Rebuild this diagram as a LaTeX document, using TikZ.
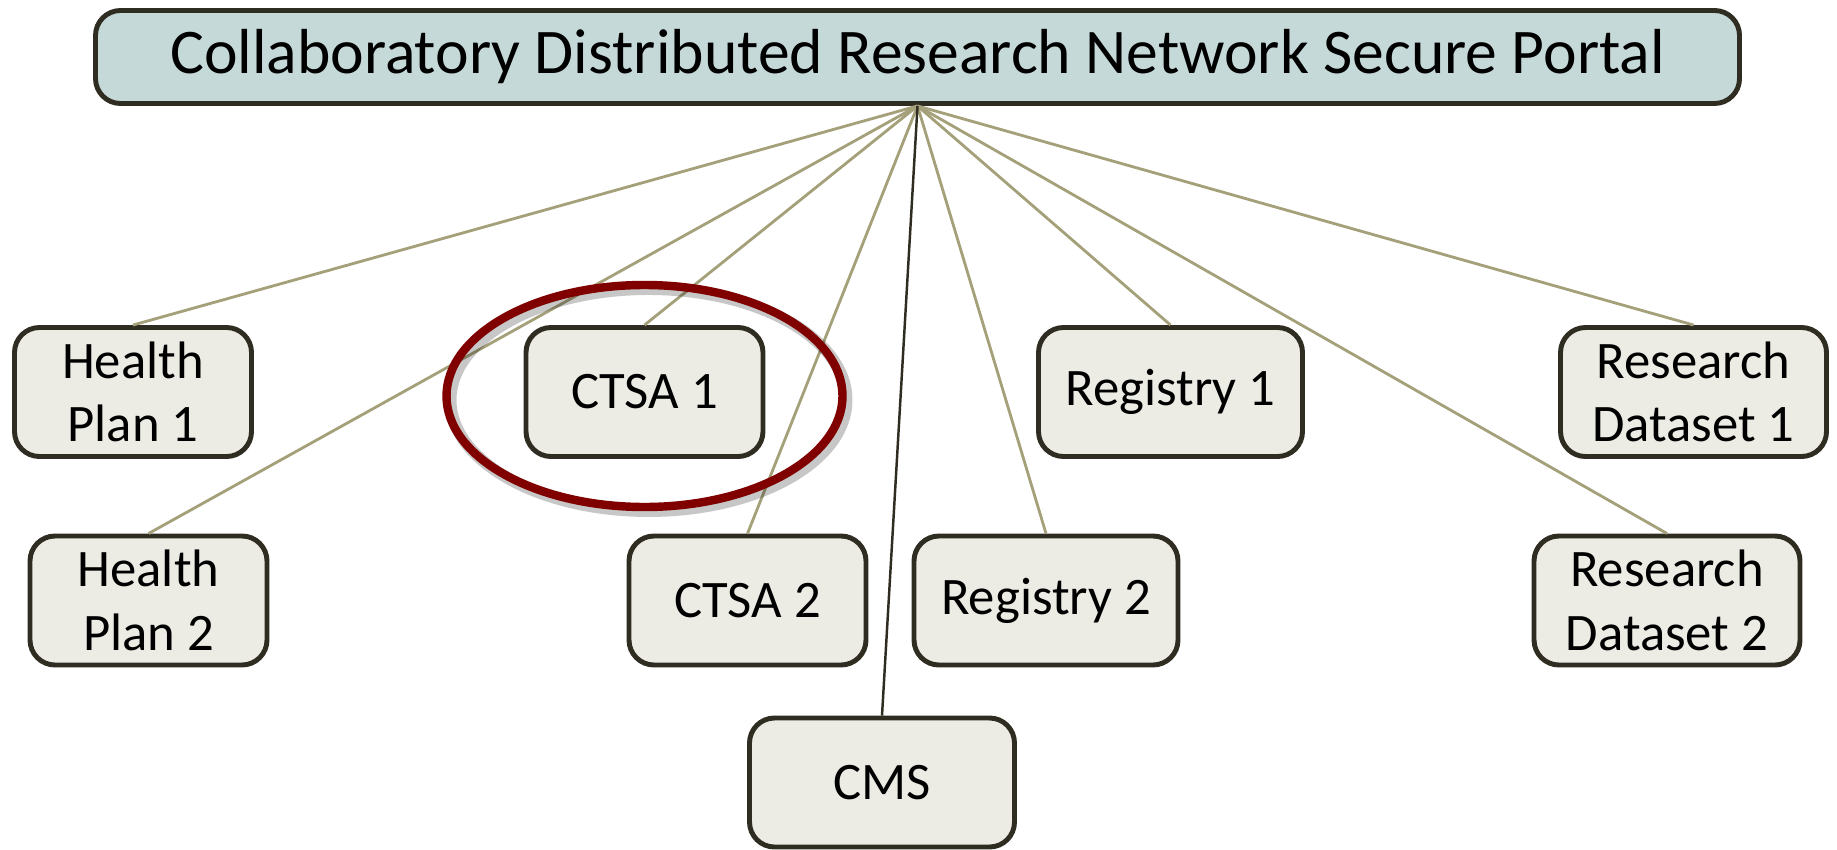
\documentclass[tikz,border=0pt]{standalone}
\usepackage{fontspec}
\setmainfont{Carlito}
\usepackage{xcolor}

\definecolor{portalfill}{RGB}{197,217,216}
\definecolor{sitefill}{RGB}{236,236,229}
\definecolor{siteline}{RGB}{47,44,34}
\definecolor{linkline}{RGB}{164,160,122}
\definecolor{ringred}{RGB}{128,0,0}

\pgfdeclareradialshading{slideshade}{\pgfpoint{0bp}{0bp}}{color(0bp)=(white); color(33bp)=(white); color(50bp)=(black!12)}

\begin{document}
\begin{tikzpicture}
    \tikzstyle{site} = [draw=siteline, fill=sitefill, line width=1.4pt, rounded corners=0.25cm, align=center, font=\fontsize{15}{18}\selectfont, minimum height=1.29cm]
    \tikzstyle{link} = [draw=linkline, line width=0.8pt]
    \useasboundingbox (0,0) rectangle (18.37,-8.49);
    \begin{scope}
        \clip (0,0) rectangle (18.37,-8.49);
        \shade[shading=slideshade] (7.5,-3.5) circle (12);
    \end{scope}
    \node [site, fill=portalfill, minimum width=16.44cm, minimum height=0.93cm, font=\fontsize{18.1}{22}\selectfont] at (9.175,-0.57) (portal) {Collaboratory Distributed Research Network Secure Portal};
    \node [site, minimum width=2.37cm] at (1.33,-3.92) (hp1) {Health\\Plan 1};
    \node [site, minimum width=2.37cm] at (1.485,-6.005) (hp2) {Health\\Plan 2};
    \node [site, minimum width=2.37cm] at (6.445,-3.92) (ctsa1) {CTSA 1};
    \node [site, minimum width=2.37cm] at (7.475,-6.005) (ctsa2) {CTSA 2};
    \node [site, minimum width=2.64cm] at (11.705,-3.92) (reg1) {Registry 1};
    \node [site, minimum width=2.64cm] at (10.46,-6.005) (reg2) {Registry 2};
    \node [site, minimum width=2.66cm] at (16.935,-3.92) (rd1) {Research\\Dataset 1};
    \node [site, minimum width=2.66cm] at (16.67,-6.005) (rd2) {Research\\Dataset 2};
    \node [site, minimum width=2.65cm] at (8.82,-7.825) (cms) {CMS};
    \foreach \s in {hp1,hp2,ctsa1,ctsa2,reg1,reg2,rd1,rd2}
        \draw[link] (portal.south) -- (\s.north);
    \draw[siteline, line width=0.7pt] (portal.south) -- (cms.north);
    % ring round the first CTSA
    \draw[black, opacity=0.22, line width=3.4pt] ([xshift=0.04cm, yshift=-0.08cm]ctsa1.center) ellipse [x radius=1.98cm, y radius=1.11cm];
    \draw[ringred, line width=2.4pt] ([yshift=-0.04cm]ctsa1.center) ellipse [x radius=1.98cm, y radius=1.11cm];
\end{tikzpicture}
\end{document}
